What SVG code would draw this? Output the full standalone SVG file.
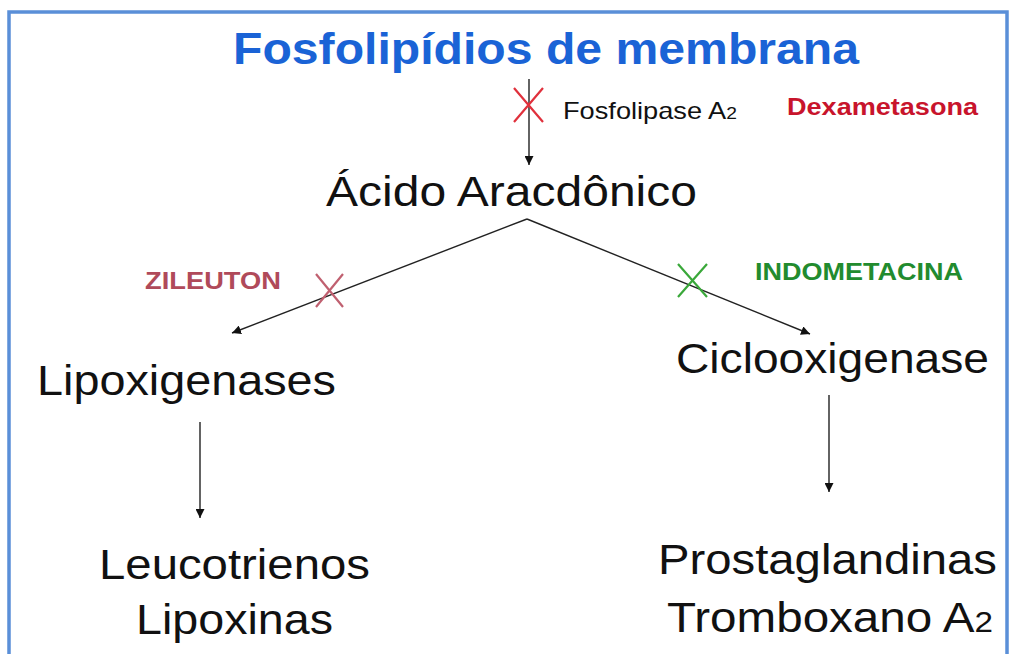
<svg xmlns="http://www.w3.org/2000/svg" width="1011" height="654" viewBox="0 0 1011 654">
<defs>
<marker id="ah" viewBox="0 0 10 10" refX="10" refY="5" markerWidth="9" markerHeight="9" markerUnits="userSpaceOnUse" orient="auto">
<path d="M0,0 L10,5 L0,10 z" fill="#111"/>
</marker>
<style>
.big{font-family:"Liberation Sans",Arial,sans-serif;font-size:43px;fill:#111}
.sm{font-family:"Liberation Sans",Arial,sans-serif;font-size:24px;fill:#111}
.drug{font-family:"Liberation Sans",Arial,sans-serif;font-size:23px;font-weight:bold}
.ln{stroke:#222;stroke-width:1.4;fill:none}
.x{stroke-width:2.2;fill:none}
</style>
</defs>
<rect width="1011" height="654" fill="#fff"/>
<rect x="9" y="12" width="998" height="700" fill="none" stroke="#5a8fd8" stroke-width="3.5"/>

<g id="title">
<text x="233" y="64" textLength="626" lengthAdjust="spacingAndGlyphs" style="font-family:'Liberation Sans',Arial,sans-serif;font-size:44px;font-weight:bold;fill:#1a63d6">Fosfolipídios de membrana</text>
</g>

<g id="connectors">
<line class="ln" x1="529" y1="79" x2="529" y2="165" marker-end="url(#ah)"/>
<line class="ln" x1="527" y1="219" x2="232" y2="333" marker-end="url(#ah)"/>
<line class="ln" x1="527" y1="219" x2="810" y2="334" marker-end="url(#ah)"/>
<line class="ln" x1="200" y1="422" x2="200" y2="518" marker-end="url(#ah)"/>
<line class="ln" x1="829" y1="395" x2="829" y2="492" marker-end="url(#ah)"/>
</g>

<g id="block-fosfolipase">
<path class="x" stroke="#e0303c" d="M514,88 L543,122 M543,88 L514,122"/>
<text class="sm" x="563" y="119" textLength="174" lengthAdjust="spacingAndGlyphs">Fosfolipase A<tspan font-size="17">2</tspan></text>
</g>

<g id="dexametasona">
<text class="drug" x="787" y="115" textLength="191" lengthAdjust="spacingAndGlyphs" fill="#c8142c">Dexametasona</text>
</g>

<g id="acido">
<text class="big" x="326" y="206" textLength="371" lengthAdjust="spacingAndGlyphs">Ácido Aracdônico</text>
</g>

<g id="zileuton">
<text class="drug" x="145" y="289" textLength="136" lengthAdjust="spacingAndGlyphs" fill="#b04a5a">ZILEUTON</text>
<path class="x" stroke="#c06070" d="M316,274 L343,307 M343,274 L316,307"/>
</g>

<g id="indometacina">
<path class="x" stroke="#3aa83a" d="M678,264 L707,297 M707,264 L678,297"/>
<text class="drug" x="755" y="280" textLength="208" lengthAdjust="spacingAndGlyphs" fill="#228b2e">INDOMETACINA</text>
</g>

<g id="lipoxigenases">
<text class="big" x="37" y="395" textLength="299" lengthAdjust="spacingAndGlyphs">Lipoxigenases</text>
</g>

<g id="ciclooxigenase">
<text class="big" x="676" y="373" textLength="313" lengthAdjust="spacingAndGlyphs">Ciclooxigenase</text>
</g>

<g id="leucotrienos">
<text class="big" x="99" y="579" textLength="271" lengthAdjust="spacingAndGlyphs">Leucotrienos</text>
<text class="big" x="136" y="634" textLength="197" lengthAdjust="spacingAndGlyphs">Lipoxinas</text>
</g>

<g id="prostaglandinas">
<text class="big" x="658" y="574" textLength="339" lengthAdjust="spacingAndGlyphs">Prostaglandinas</text>
<text class="big" x="667" y="632" textLength="326" lengthAdjust="spacingAndGlyphs">Tromboxano A<tspan font-size="30">2</tspan></text>
</g>
</svg>
